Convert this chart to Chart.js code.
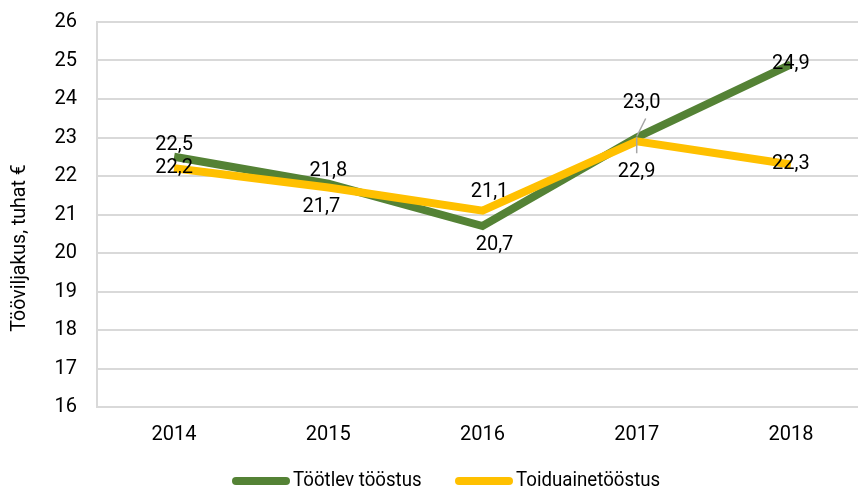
<!DOCTYPE html>
<html>
<head>
<meta charset="utf-8">
<script src="https://cdn.jsdelivr.net/npm/chart.js@4"></script>
<style>
  html, body { margin: 0; padding: 0; background: #fff; overflow: hidden; }
  #wrap { width: 870px; height: 493px; }
</style>
</head>
<body>
<div id="wrap"><canvas id="chart" width="870" height="493"></canvas></div>
<script>
// Chart data
const years = ['2014', '2015', '2016', '2017', '2018'];
const tootlev = [22.5, 21.8, 20.7, 23.0, 24.9];
const toiduaine = [22.2, 21.7, 21.1, 22.9, 22.3];
const seriesNames = ['Töötlev tööstus', 'Toiduainetööstus'];
const seriesColors = ['#548235', '#FFC000'];
const yTitle = 'Tööviljakus, tuhat €';

// label offsets from the point (dx, dy) per dataset
const labelOffsets = [
    [[0, -12], [0, -13], [12, 19], [5, -35], [0, 0]],
    [[0, 0], [-7, 19], [7, -19], [0, 31], [0, 0]]
];

const FONT = 'Roboto';

// Data labels drawn at the scaled point positions
const dataLabels = {
    id: 'dataLabels',
    afterDatasetsDraw(chart) {
        const ctx = chart.ctx;
        ctx.save();
        ctx.font = '20px ' + FONT;
        ctx.fillStyle = '#000';
        ctx.textAlign = 'center';
        ctx.textBaseline = 'middle';
        chart.data.datasets.forEach((ds, di) => {
            const meta = chart.getDatasetMeta(di);
            meta.data.forEach((pt, i) => {
                const off = labelOffsets[di][i];
                const text = ds.data[i].toFixed(1).replace('.', ',');
                ctx.fillText(text, pt.x + off[0], pt.y + off[1]);
            });
        });
        // leader lines at 2017
        const g = chart.getDatasetMeta(0).data[3];
        const y = chart.getDatasetMeta(1).data[3];
        ctx.strokeStyle = '#a6a6a6';
        ctx.lineWidth = 1.5;
        ctx.beginPath();
        ctx.moveTo(g.x + 9, g.y - 19);
        ctx.lineTo(g.x, g.y - 1);
        ctx.moveTo(y.x, y.y - 4);
        ctx.lineTo(y.x, y.y + 12);
        ctx.stroke();
        ctx.restore();
    }
};

// Legend under the x axis and the y axis title
const bottomLegend = {
    id: 'bottomLegend',
    afterDraw(chart) {
        const ctx = chart.ctx;
        const items = [{ x: 232, text: seriesNames[0], color: seriesColors[0] },
                       { x: 455, text: seriesNames[1], color: seriesColors[1] }];
        const cy = 481;
        ctx.save();
        ctx.font = '21px ' + FONT;
        ctx.textBaseline = 'middle';
        ctx.textAlign = 'left';
        items.forEach(it => {
            ctx.strokeStyle = it.color;
            ctx.lineWidth = 8;
            ctx.lineCap = 'round';
            ctx.beginPath();
            ctx.moveTo(it.x + 4, cy);
            ctx.lineTo(it.x + 54, cy);
            ctx.stroke();
            ctx.fillStyle = '#000';
            // squeeze text a bit, the original uses a condensed face
            ctx.save();
            ctx.translate(it.x + 61, cy);
            ctx.scale(0.89, 1);
            ctx.fillText(it.text, 0, 0);
            ctx.restore();
        });

        // y axis title
        ctx.save();
        ctx.translate(20, 248);
        ctx.rotate(-Math.PI / 2);
        ctx.scale(0.93, 1);
        ctx.textAlign = 'center';
        ctx.textBaseline = 'middle';
        ctx.fillStyle = '#000';
        ctx.fillText(yTitle, 0, 0);
        ctx.restore();
        ctx.restore();
    }
};

new Chart(document.getElementById('chart'), {
    type: 'line',
    data: {
        labels: years,
        datasets: [
            {
                label: seriesNames[0],
                data: tootlev,
                borderColor: seriesColors[0],
                backgroundColor: seriesColors[0],
                borderWidth: 8,
                pointRadius: 0,
                order: 2
            },
            {
                label: seriesNames[1],
                data: toiduaine,
                borderColor: seriesColors[1],
                backgroundColor: seriesColors[1],
                borderWidth: 8,
                pointRadius: 0,
                order: 1
            }
        ]
    },
    options: {
        responsive: false,
        animation: false,
        layout: {
            padding: { top: 22, left: 0, right: 2, bottom: 46 }
        },
        plugins: {
            tooltip: { enabled: false },
            legend: { display: false }
        },
        scales: {
            x: {
                offset: true,
                afterFit(scale) { scale.height = 40; },
                grid: { display: false, drawTicks: false },
                border: { display: false },
                ticks: { color: '#000', padding: 16, font: { family: FONT, size: 20 } }
            },
            y: {
                min: 16,
                max: 26,
                afterFit(scale) {
                    scale.width = 97;
                    scale.paddingTop = 0;
                    scale.paddingBottom = 0;
                },
                grid: { color: '#d9d9d9', lineWidth: 2, drawTicks: false },
                border: { display: true, color: '#d9d9d9', width: 2 },
                ticks: { stepSize: 1, color: '#000', padding: 20, font: { family: FONT, size: 20 } }
            }
        }
    },
    plugins: [dataLabels, bottomLegend]
});
</script>
</body>
</html>
